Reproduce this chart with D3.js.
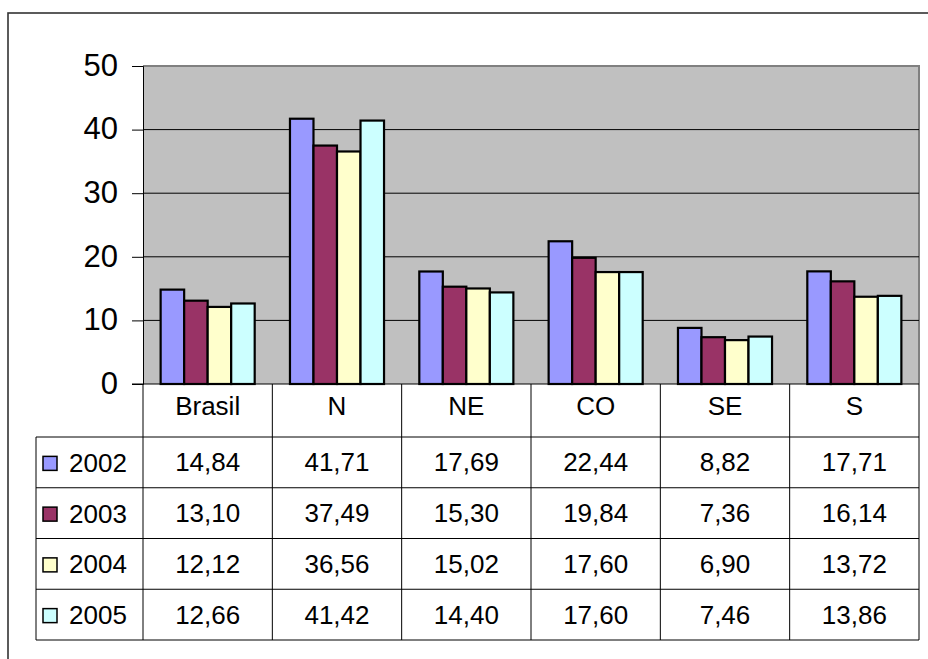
<!DOCTYPE html>
<html>
<head>
<meta charset="utf-8">
<script src="https://cdn.jsdelivr.net/npm/d3@7"></script>
<style>
  html, body { margin: 0; padding: 0; background: #ffffff; }
  svg { display: block; font-family: "Liberation Sans", Arial, sans-serif; }
</style>
</head>
<body>
<svg id="chart" width="928" height="659"></svg>
<script>
// Regions and yearly series
const categories = ["Brasil", "N", "NE", "CO", "SE", "S"];
const years = ["2002", "2003", "2004", "2005"];
const values2002 = [14.84, 41.71, 17.69, 22.44, 8.82, 17.71];
const values2003 = [13.10, 37.49, 15.30, 19.84, 7.36, 16.14];
const values2004 = [12.12, 36.56, 15.02, 17.60, 6.90, 13.72];
const values2005 = [12.66, 41.42, 14.40, 17.60, 7.46, 13.86];
const yTicks = [0, 10, 20, 30, 40, 50];
const colors = ["#9999FF", "#993366", "#FFFFCC", "#CCFFFF"];

const seriesValues = [values2002, values2003, values2004, values2005];
const series = years.map((y, i) => ({ year: y, color: colors[i], values: seriesValues[i] }));

const svg = d3.select("#chart");

// Layout
const plotLeft = 143, plotRight = 919, plotTop = 66, plotBottom = 384;
const tableLeft = 36, headerBottom = 437, tableBottom = 640;

const x0 = d3.scaleBand().domain(categories).range([plotLeft, plotRight]).padding(0);
const x1 = d3.scaleBand().domain(years).range([0, x0.bandwidth()])
  .paddingInner(0).paddingOuter(0.75);
const y = d3.scaleLinear().domain([0, 50]).range([plotBottom, plotTop]);
const rowY = d3.scaleBand().domain(years).range([headerBottom, tableBottom]).padding(0);

const fmt = v => d3.format(".2f")(v).replace(".", ",");

// Outer chart frame
svg.append("rect")
  .attr("x", 8).attr("y", 13)
  .attr("width", 940).attr("height", 680)
  .attr("fill", "#ffffff")
  .attr("stroke", "#333333").attr("stroke-width", 1.6);

// Plot background
svg.append("rect")
  .attr("x", plotLeft).attr("y", plotTop)
  .attr("width", plotRight - plotLeft).attr("height", plotBottom - plotTop)
  .attr("fill", "#C0C0C0");

// Plot top/right border
svg.append("path")
  .attr("d", `M${plotLeft},${plotTop}H${plotRight}V${plotBottom}`)
  .attr("fill", "none").attr("stroke", "#808080").attr("stroke-width", 2);

// Gridlines
svg.append("g").selectAll("line")
  .data(yTicks.filter(t => t > 0 && t < 50))
  .join("line")
  .attr("x1", plotLeft).attr("x2", plotRight)
  .attr("y1", d => y(d)).attr("y2", d => y(d))
  .attr("stroke", "#000000").attr("stroke-width", 1);

// Y axis
const yAxis = d3.axisLeft(y).tickValues(yTicks).tickSize(11).tickPadding(14);
const gy = svg.append("g").attr("transform", `translate(${plotLeft},0)`).call(yAxis);
gy.select(".domain").attr("stroke", "#000").attr("stroke-width", 1);
gy.selectAll(".tick line").attr("stroke", "#000");
gy.selectAll(".tick text")
  .attr("font-size", 31).attr("fill", "#000")
  .attr("font-family", "'Liberation Sans', Arial, sans-serif")
  .attr("dy", "0.3em");

// Bars
const groups = svg.append("g").selectAll("g")
  .data(categories.map((c, ci) => ({ cat: c, ci })))
  .join("g")
  .attr("transform", d => `translate(${x0(d.cat)},0)`);

groups.selectAll("rect")
  .data(d => series.map(s => ({ year: s.year, color: s.color, value: s.values[d.ci] })))
  .join("rect")
  .attr("x", d => x1(d.year))
  .attr("y", d => y(d.value))
  .attr("width", x1.bandwidth())
  .attr("height", d => y(0) - y(d.value))
  .attr("fill", d => d.color)
  .attr("stroke", "#000").attr("stroke-width", 2.2);

// Data table
const table = svg.append("g");

// horizontal lines
table.append("line")
  .attr("x1", plotLeft - 11).attr("x2", plotRight)
  .attr("y1", plotBottom).attr("y2", plotBottom)
  .attr("stroke", "#000").attr("stroke-width", 1.2);
table.selectAll("line.row")
  .data(years)
  .join("line").attr("class", "row")
  .attr("x1", tableLeft).attr("x2", plotRight)
  .attr("y1", d => rowY(d)).attr("y2", d => rowY(d))
  .attr("stroke", "#000").attr("stroke-width", 1);
table.append("line")
  .attr("x1", tableLeft).attr("x2", plotRight)
  .attr("y1", tableBottom).attr("y2", tableBottom)
  .attr("stroke", "#000").attr("stroke-width", 1);

// vertical lines
table.selectAll("line.col")
  .data(categories.slice(1))
  .join("line").attr("class", "col")
  .attr("x1", d => x0(d)).attr("x2", d => x0(d))
  .attr("y1", plotBottom).attr("y2", tableBottom)
  .attr("stroke", "#000").attr("stroke-width", 1);
table.append("line")
  .attr("x1", plotLeft).attr("x2", plotLeft)
  .attr("y1", plotBottom).attr("y2", tableBottom)
  .attr("stroke", "#000").attr("stroke-width", 1);
table.append("line")
  .attr("x1", plotRight).attr("x2", plotRight)
  .attr("y1", plotBottom).attr("y2", tableBottom)
  .attr("stroke", "#000").attr("stroke-width", 1);
table.append("line")
  .attr("x1", tableLeft).attr("x2", tableLeft)
  .attr("y1", headerBottom).attr("y2", tableBottom)
  .attr("stroke", "#000").attr("stroke-width", 1);

// header labels
table.selectAll("text.hdr")
  .data(categories)
  .join("text").attr("class", "hdr")
  .attr("x", d => x0(d) + x0.bandwidth() / 2)
  .attr("y", 415)
  .attr("text-anchor", "middle")
  .attr("font-size", 26).attr("fill", "#000")
  .text(d => d);

// legend cells
const legendRows = table.selectAll("g.leg")
  .data(series)
  .join("g").attr("class", "leg")
  .attr("transform", d => `translate(0,${rowY(d.year) + rowY.bandwidth() / 2})`);
legendRows.append("rect")
  .attr("x", 43).attr("y", -6)
  .attr("width", 14).attr("height", 14)
  .attr("fill", d => d.color)
  .attr("stroke", "#000").attr("stroke-width", 1.5);
legendRows.append("text")
  .attr("x", 69).attr("y", 9.5)
  .attr("font-size", 26).attr("fill", "#000")
  .text(d => d.year);

// value cells
legendRows.selectAll("text.val")
  .data(d => d.values.map((v, ci) => ({ v, cat: categories[ci] })))
  .join("text").attr("class", "val")
  .attr("x", d => x0(d.cat) + x0.bandwidth() / 2)
  .attr("y", 9)
  .attr("text-anchor", "middle")
  .attr("font-size", 26).attr("fill", "#000")
  .text(d => fmt(d.v));
</script>
</body>
</html>
